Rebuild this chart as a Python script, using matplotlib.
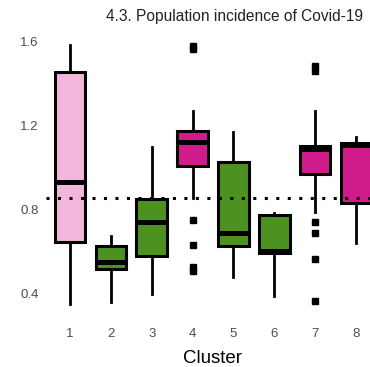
import matplotlib
matplotlib.use("Agg")
import matplotlib.pyplot as plt

plt.rcParams['font.family'] = ['Liberation Sans', 'DejaVu Sans']

clusters = ["1", "2", "3", "4", "5", "6", "7", "8"]
whislo = [0.352, 0.360, 0.400, 0.856, 0.482, 0.392, 0.792, 0.641]
q1 = [0.649, 0.518, 0.582, 1.010, 0.629, 0.594, 0.970, 0.832]
med = [0.935, 0.550, 0.741, 1.124, 0.689, 0.605, 1.090, 1.107]
q3 = [1.457, 0.630, 0.852, 1.178, 1.029, 0.776, 1.105, 1.120]
whishi = [1.586, 0.678, 1.101, 1.273, 1.173, 0.787, 1.273, 1.149]
fliers = [[], [], [], [1.582, 1.566, 0.752, 0.633, 0.530, 0.507], [], [],
          [1.487, 1.460, 0.743, 0.690, 0.567, 0.367], []]
colors = ["#F1B6DA", "#4D9221", "#4D9221", "#D01C8B",
          "#4D9221", "#4D9221", "#D01C8B", "#D01C8B"]
ref_line = 0.857

stats = []
for i, c in enumerate(clusters):
    stats.append(dict(label=c, whislo=whislo[i], q1=q1[i], med=med[i],
                      q3=q3[i], whishi=whishi[i], fliers=fliers[i]))

fig = plt.figure(figsize=(3.7, 3.67), dpi=100)
ax = fig.add_axes([45.5 / 370, 50 / 367, 335 / 370, 285.5 / 367])

pos = list(range(1, len(clusters) + 1))
bp = ax.bxp(stats, positions=pos, widths=0.75, patch_artist=True,
            showcaps=False,
            boxprops=dict(linewidth=2.2, edgecolor="black"),
            medianprops=dict(color="black", linewidth=3.6, solid_capstyle="butt"),
            whiskerprops=dict(color="black", linewidth=2.0),
            flierprops=dict(marker="s", markersize=4.0, markerfacecolor="black",
                            markeredgecolor="black", linestyle="none"))
for patch, col in zip(bp["boxes"], colors):
    patch.set_facecolor(col)

ax.axhline(ref_line, color="black", linewidth=2.2, linestyle=(0, (1, 2.76)),
           zorder=5)

ax.set_xlim(0.4, 8.6)
ax.set_ylim(0.29, 1.65)
ax.set_yticks([0.4, 0.8, 1.2, 1.6])
ax.set_yticklabels(["0.4", "0.8", "1.2", "1.6"])
ax.set_xticks(pos)
ax.set_xticklabels(clusters)
ax.tick_params(length=0, labelsize=9.5, labelcolor="#4D4D4D")
ax.tick_params(axis="y", pad=5)
ax.tick_params(axis="x", pad=8)
for s in ax.spines.values():
    s.set_visible(False)

ax.set_xlabel("Cluster", fontsize=13.5, labelpad=7)
fig.text(235 / 370, 1 - 16 / 367, "4.3. Population incidence of Covid-19",
         ha="center", va="center", fontsize=11.2, color="#222222")

fig.savefig("out.png", dpi=100)
